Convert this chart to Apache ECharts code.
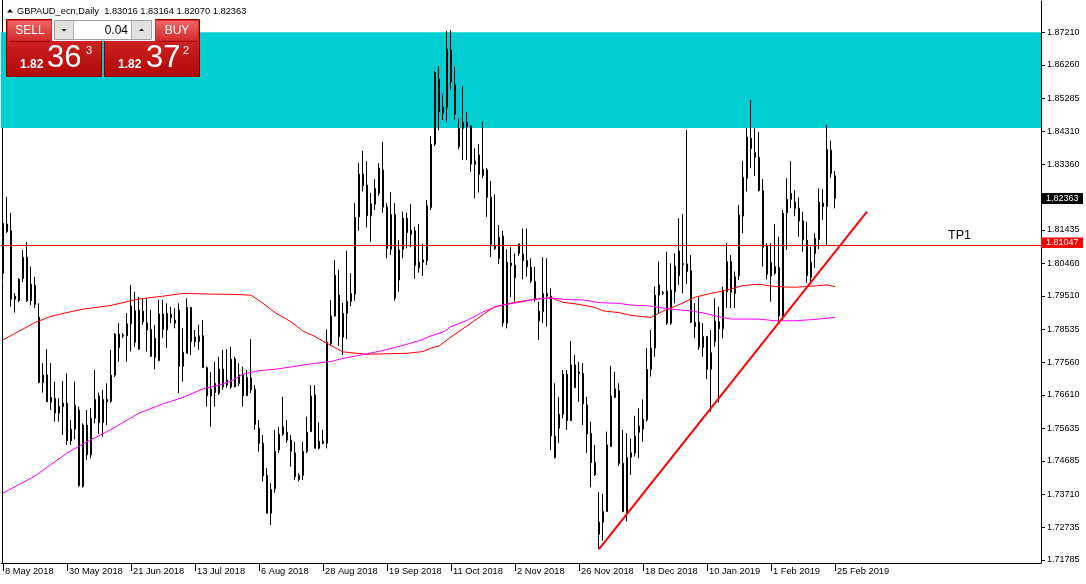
<!DOCTYPE html>
<html><head><meta charset="utf-8">
<script src="https://cdn.jsdelivr.net/npm/echarts/dist/echarts.min.js"></script>
<style>html,body{margin:0;padding:0;background:#fff;overflow:hidden}#c{width:1086px;height:584px}</style>
</head><body><div id="c"></div>
<script>
// ---------- data ----------
const dateLabels = ['8 May 2018','30 May 2018','21 Jun 2018','13 Jul 2018','6 Aug 2018','28 Aug 2018','19 Sep 2018','11 Oct 2018','2 Nov 2018','26 Nov 2018','18 Dec 2018','10 Jan 2019','1 Feb 2019','25 Feb 2019'];
const labelStep = 16;
const totalSlots = 260;

const opens = [1.8017,1.8161,1.8141,1.7941,1.7937,1.8002,1.8064,1.7937,1.7982,1.7888,
1.7697,1.7720,1.7654,1.7651,1.7608,1.7627,1.7637,1.7527,1.7561,1.7617,
1.7393,1.7573,1.7486,1.7593,1.7658,1.7580,1.7648,1.7643,1.7719,1.7800,
1.7836,1.7834,1.7869,1.7907,1.7795,1.7906,1.7872,1.7853,1.7771,1.7761,
1.7898,1.7851,1.7897,1.7871,1.7909,1.7745,1.7783,1.7917,1.7817,1.7817,
1.7834,1.7741,1.7658,1.7668,1.7666,1.7737,1.7705,1.7684,1.7766,1.7695,
1.7720,1.7659,1.7711,1.7678,1.7564,1.7520,1.7426,1.7315,1.7387,1.7500,
1.7546,1.7552,1.7529,1.7492,1.7414,1.7426,1.7496,1.7554,1.7661,1.7505,
1.7520,1.7520,1.7812,1.7892,1.7953,1.7830,1.7900,1.7935,1.7956,1.8182,
1.8307,1.8275,1.8185,1.8219,1.8251,1.8319,1.8210,1.8087,1.8189,1.7997,
1.8087,1.8178,1.8131,1.8141,1.8033,1.8049,1.8054,1.8209,1.8394,1.8584,
1.8485,1.8502,1.8670,1.8568,1.8387,1.8441,1.8458,1.8448,1.8336,1.8363,
1.8303,1.8319,1.8239,1.8099,1.8060,1.8126,1.7871,1.8047,1.8041,1.8103,
1.8073,1.8054,1.8034,1.7993,1.7878,1.7905,1.7958,1.7950,1.7541,1.7564,
1.7605,1.7722,1.7586,1.7749,1.7728,1.7724,1.7632,1.7549,1.7464,1.7254,
1.7289,1.7320,1.7510,1.7654,1.7673,1.7461,1.7320,1.7479,1.7491,1.7552,
1.7561,1.7588,1.7736,1.7798,1.7953,1.7960,1.7965,1.7871,1.7963,1.8010,
1.8043,1.8044,1.8024,1.7861,1.7874,1.7800,1.7832,1.7736,1.7817,1.7875,
1.7855,1.7963,1.8051,1.7958,1.8009,1.8184,1.8295,1.8412,1.8370,1.8356,
1.8258,1.8097,1.8009,1.8017,1.8034,1.7892,1.8194,1.8233,1.8225,1.8207,
1.8170,1.8114,1.8005,1.8075,1.8116,1.8222,1.8212,1.8377,1.83016];

const highs = [1.8182,1.8241,1.8194,1.7959,1.8003,1.8085,1.8108,1.8036,1.8007,1.7929,
1.7754,1.7795,1.7754,1.7700,1.7652,1.7702,1.7724,1.7588,1.7700,1.7627,
1.7578,1.7617,1.7622,1.7734,1.7668,1.7676,1.7695,1.7793,1.7842,1.7871,
1.7842,1.7900,1.7983,1.7963,1.7948,1.7944,1.7944,1.7910,1.7866,1.7939,
1.7939,1.7929,1.7919,1.7915,1.7929,1.7856,1.7944,1.7918,1.7851,1.7866,
1.7880,1.7744,1.7728,1.7758,1.7773,1.7793,1.7795,1.7802,1.7773,1.7754,
1.7744,1.7734,1.7824,1.7690,1.7588,1.7544,1.7447,1.7403,1.7559,1.7568,
1.7656,1.7588,1.7544,1.7524,1.7432,1.7524,1.7598,1.7690,1.7690,1.7581,
1.7559,1.7853,1.7939,1.8056,1.8027,1.7930,1.8083,1.8017,1.8222,1.8339,
1.8375,1.8345,1.8252,1.8292,1.8339,1.8401,1.8222,1.8254,1.8222,1.8114,
1.8197,1.8194,1.8220,1.8153,1.8161,1.8103,1.8231,1.8418,1.8609,1.8623,
1.8543,1.8725,1.8728,1.8621,1.8470,1.8565,1.8488,1.8448,1.8382,1.8395,
1.8460,1.8325,1.8287,1.8248,1.8158,1.8141,1.8087,1.8093,1.8075,1.8103,
1.8148,1.8148,1.8061,1.8036,1.7934,1.8064,1.8061,1.7973,1.7695,1.7656,
1.7734,1.7734,1.7819,1.7778,1.7758,1.7754,1.7656,1.7583,1.7515,1.7378,
1.7372,1.7554,1.7746,1.7729,1.7695,1.7559,1.7549,1.7534,1.7600,1.7622,
1.7648,1.7798,1.7851,1.7978,1.8051,1.7965,1.8080,1.8046,1.8075,1.8178,
1.8190,1.8436,1.8070,1.7929,1.7947,1.7871,1.7832,1.7851,1.7944,1.7919,
1.7978,1.8105,1.8070,1.8022,1.8217,1.8346,1.8441,1.8524,1.8441,1.8430,
1.8292,1.8105,1.8105,1.8161,1.8124,1.8202,1.8295,1.8345,1.8260,1.8239,
1.8197,1.8168,1.8095,1.8134,1.8265,1.8263,1.8451,1.8405,1.83164];

const lows = [1.8012,1.8135,1.7919,1.7902,1.7933,1.7991,1.7933,1.7924,1.7915,1.7696,
1.7668,1.7641,1.7617,1.7583,1.7583,1.7544,1.7515,1.7515,1.7531,1.7393,
1.7390,1.7471,1.7476,1.7578,1.7547,1.7539,1.7573,1.7638,1.7714,1.7758,
1.7828,1.7758,1.7788,1.7802,1.7793,1.7866,1.7788,1.7773,1.7736,1.7761,
1.7828,1.7798,1.7871,1.7856,1.7666,1.7700,1.7783,1.7778,1.7802,1.7793,
1.7741,1.7627,1.7568,1.7627,1.7661,1.7676,1.7682,1.7679,1.7684,1.7687,
1.7627,1.7658,1.7667,1.7559,1.7495,1.7408,1.7315,1.7281,1.7375,1.7491,
1.7541,1.7521,1.7451,1.7412,1.7408,1.7412,1.7491,1.7554,1.7505,1.7502,
1.7517,1.7505,1.7807,1.7890,1.7804,1.7778,1.7824,1.7921,1.7937,1.8141,
1.8256,1.8151,1.8109,1.8202,1.8243,1.8194,1.8061,1.8070,1.7937,1.7963,
1.8061,1.8090,1.8093,1.8001,1.8019,1.8009,1.8041,1.8202,1.8389,1.8435,
1.8465,1.8460,1.8553,1.8467,1.8379,1.8348,1.8348,1.8314,1.8236,1.8253,
1.8295,1.8182,1.8065,1.8085,1.8044,1.7861,1.7856,1.7947,1.7934,1.8068,
1.7999,1.8007,1.7989,1.7934,1.7822,1.7871,1.7861,1.7500,1.7475,1.7520,
1.7593,1.7559,1.7586,1.7682,1.7641,1.7573,1.7492,1.7391,1.7424,1.7210,
1.7235,1.7320,1.7510,1.7652,1.7453,1.7320,1.7291,1.7427,1.7481,1.7476,
1.7524,1.7583,1.7715,1.7773,1.7900,1.7953,1.7866,1.7866,1.7929,1.7983,
1.7958,1.7985,1.7871,1.7827,1.7793,1.7773,1.7707,1.7612,1.7802,1.7639,
1.7827,1.7915,1.7915,1.7915,1.7997,1.8134,1.8256,1.8324,1.8301,1.8256,
1.8036,1.7999,1.7934,1.8012,1.7871,1.7880,1.8085,1.8207,1.8184,1.8124,
1.8080,1.7989,1.7992,1.8032,1.8087,1.8173,1.8097,1.8296,1.82070];

const closes = [1.8163,1.8139,1.7941,1.7950,1.7999,1.8064,1.7937,1.7985,1.7926,1.7697,
1.7719,1.7641,1.7640,1.7608,1.7627,1.7637,1.7527,1.7561,1.7631,1.7396,
1.7573,1.7486,1.7593,1.7648,1.7580,1.7648,1.7641,1.7719,1.7839,1.7839,
1.7833,1.7869,1.7921,1.7815,1.7909,1.7875,1.7851,1.7774,1.7827,1.7898,
1.7853,1.7900,1.7888,1.7880,1.7745,1.7786,1.7917,1.7817,1.7830,1.7834,
1.7741,1.7659,1.7678,1.7695,1.7737,1.7685,1.7690,1.7766,1.7685,1.7720,
1.7658,1.7713,1.7676,1.7575,1.7520,1.7424,1.7315,1.7385,1.7496,1.7546,
1.7568,1.7529,1.7496,1.7422,1.7426,1.7496,1.7552,1.7658,1.7505,1.7526,
1.7526,1.7815,1.7892,1.8011,1.7832,1.7900,1.7935,1.7958,1.8181,1.8307,
1.8273,1.8185,1.8220,1.8265,1.8324,1.8210,1.8090,1.8189,1.7944,1.8085,
1.8178,1.8136,1.8143,1.8040,1.8049,1.8056,1.8214,1.8394,1.8604,1.8489,
1.8502,1.8672,1.8577,1.8482,1.8441,1.8458,1.8446,1.8336,1.8345,1.8306,
1.8321,1.8239,1.8102,1.8089,1.8122,1.7872,1.8049,1.8039,1.8004,1.8075,
1.8054,1.8036,1.7995,1.7941,1.7906,1.7958,1.7950,1.7541,1.7478,1.7605,
1.7722,1.7586,1.7749,1.7682,1.7724,1.7635,1.7547,1.7463,1.7428,1.7289,
1.7320,1.7515,1.7658,1.7679,1.7461,1.7320,1.7479,1.7492,1.7541,1.7570,
1.7590,1.7736,1.7798,1.7953,1.7983,1.7958,1.7871,1.7968,1.8038,1.8082,
1.8045,1.8022,1.7874,1.7874,1.7802,1.7832,1.7736,1.7785,1.7877,1.7855,
1.7965,1.8051,1.7961,1.8007,1.8187,1.8298,1.8415,1.8382,1.8356,1.8259,
1.8093,1.8014,1.8048,1.8036,1.7892,1.8192,1.8233,1.8251,1.8207,1.8170,
1.8116,1.8010,1.8049,1.8119,1.8225,1.8212,1.8379,1.8309,1.82363];

const redMaBars = [0,8,12,16,20,27,34,40,45,52,58,62,65,68,72,75,78,81,85,91,101,105,107,109,112,116,120,123,126,129,133,137,140,144,148,150,154,157,162,165,169,173,177,181,185,189,193,198,203,206,208];
const redMaValues = [1.7822,1.7873,1.7891,1.7902,1.7912,1.7923,1.7942,1.7950,1.7958,1.7956,1.7955,1.7953,1.7929,1.7902,1.7875,1.7848,1.7832,1.7812,1.7787,1.7780,1.7783,1.7788,1.7798,1.7804,1.7831,1.7863,1.7896,1.7919,1.7927,1.7934,1.7941,1.7945,1.7932,1.7926,1.7917,1.7907,1.7902,1.7894,1.7888,1.7906,1.7925,1.7947,1.7958,1.7968,1.7981,1.7985,1.7978,1.7976,1.7980,1.7983,1.7978];
const pinkMaBars = [0,8,16,21,27,34,40,45,50,53,57,60,64,68,72,77,82,85,90,95,100,105,107,110,112,116,120,123,126,130,133,137,140,145,149,154,157,162,164,167,172,175,179,182,189,193,198,203,208];
const pinkMaValues = [1.7374,1.7424,1.7491,1.7524,1.7560,1.7608,1.7635,1.7654,1.7679,1.7687,1.7701,1.7722,1.7732,1.7736,1.7743,1.7752,1.7759,1.7768,1.7779,1.7791,1.7806,1.7823,1.7834,1.7845,1.7861,1.7879,1.7904,1.7918,1.7926,1.7934,1.7941,1.7945,1.7941,1.7939,1.7931,1.7929,1.7924,1.7921,1.7917,1.7912,1.7907,1.7901,1.7890,1.7883,1.7883,1.7878,1.7878,1.7882,1.7888];

const trendBars = [149, 216];
const trendValues = [1.72106, 1.81975];
const zoneLow = 1.8442, zoneHigh = 1.8722;
const tp1 = 1.81047;
const tp1Name = 'TP1';
const lastPrice = 1.82363;
const priceTicks = [1.71785,1.72735,1.73710,1.74685,1.75635,1.76610,1.77560,1.78535,1.79510,1.80460,1.81435,1.83360,1.84310,1.85285,1.86260,1.87210];
const yMin = 1.71697, yMax = 1.88131;
const titleText = 'GBPAUD_ecn,Daily  1.83016 1.83164 1.82070 1.82363';
const lotText = '0.04';
const sellParts = ['1.82', '36', '3'];
const buyParts = ['1.82', '37', '2'];

// ---------- chart ----------
const F = '"Liberation Sans", Arial, sans-serif';
const categories = [];
for (let i = 0; i < totalSlots; i++) categories.push(String(i));
const isLabelIdx = (i) => i % labelStep === 0 && (i / labelStep) < dateLabels.length;
const ohlc = opens.map((o, i) => [o, closes[i], lows[i], highs[i]]);

const GRID = {left: 1, top: 1, width: 1040, height: 562};
const chart = echarts.init(document.getElementById('c'), null, {renderer: 'canvas'});

chart.setOption({
  animation: false,
  backgroundColor: '#ffffff',
  grid: {left: GRID.left, top: GRID.top, width: GRID.width, height: GRID.height, containLabel: false},
  xAxis: {
    type: 'category', data: categories, boundaryGap: true,
    axisLine: {onZero: false, lineStyle: {color: '#000', width: 1}},
    axisTick: {show: true, interval: isLabelIdx, alignWithLabel: true, length: 8, lineStyle: {color: '#000'}},
    axisLabel: {
      interval: isLabelIdx, align: 'left', margin: 4, color: '#000', fontSize: 9.3, fontFamily: F,
      padding: [0, 0, 0, 2],
      formatter: (v) => { const i = +v; return isLabelIdx(i) ? dateLabels[i / labelStep] : ''; }
    },
    splitLine: {show: false}
  },
  yAxis: {
    type: 'value', position: 'right', min: yMin, max: yMax, scale: true,
    axisLine: {show: true, lineStyle: {color: '#000', width: 1}},
    axisTick: {show: true, customValues: priceTicks, length: 4, lineStyle: {color: '#000'}},
    axisLabel: {customValues: priceTicks, formatter: (v) => v.toFixed(5), color: '#000', fontSize: 9, fontFamily: F, margin: 6},
    splitLine: {show: false}
  },
  series: [
    {
      type: 'candlestick', data: ohlc, barWidth: 2, silent: true, z: 2,
      itemStyle: {color: '#00c800', color0: '#e00000', borderColor: '#000', borderColor0: '#000', borderWidth: 1},
      markArea: {silent: true, z: 1, itemStyle: {color: '#00CED1', opacity: 1, borderWidth: 0}, label: {show: false},
        data: [[{yAxis: zoneLow}, {yAxis: zoneHigh}]]},
      markLine: {silent: true, symbol: ['none', 'none'], animation: false,
        lineStyle: {color: '#ff0000', width: 1, type: 'solid'}, label: {show: false},
        data: [{yAxis: tp1}]}
    },
    {type: 'line', name: 'MA red', data: redMaBars.map((b, k) => [b, redMaValues[k]]), symbol: 'none', silent: true, z: 3,
      lineStyle: {color: '#ff0000', width: 1}},
    {type: 'line', name: 'MA magenta', data: pinkMaBars.map((b, k) => [b, pinkMaValues[k]]), symbol: 'none', silent: true, z: 3,
      lineStyle: {color: '#ff00ff', width: 1}},
    {type: 'line', name: 'trend', data: trendBars.map((b, k) => [b, trendValues[k]]), symbol: 'none', silent: true, z: 4,
      lineStyle: {color: '#ff0000', width: 2}}
  ]
});

// ---------- overlay (panel, title, price boxes) ----------
function txt(text, x, y, size, color, align, valign, weight) {
  return {type: 'text', z: 100, silent: true, style: {
    text: text, x: x, y: y, fill: color, fontSize: size, fontFamily: F, fontWeight: weight || 'normal',
    align: align, textAlign: align, verticalAlign: valign, textVerticalAlign: valign}};
}
function rect(x, y, w, h, fill, stroke) {
  const s = {fill: fill};
  if (stroke) { s.stroke = stroke; s.lineWidth = 1; }
  return {type: 'rect', z: 99, silent: true, shape: {x: x, y: y, width: w, height: h}, style: s};
}
function grad(c1, c2) {
  return {type: 'linear', x: 0, y: 0, x2: 0, y2: 1, colorStops: [{offset: 0, color: c1}, {offset: 1, color: c2}]};
}

const yTP = chart.convertToPixel({yAxisIndex: 0}, tp1);
const yLast = chart.convertToPixel({yAxisIndex: 0}, lastPrice);
const axisX = GRID.left + GRID.width;

const g = [
  {type: 'line', z: 0, silent: true, shape: {x1: 2.5, y1: 0, x2: 2.5, y2: 563}, style: {stroke: '#000', lineWidth: 1}},
  // title
  {type: 'polygon', z: 100, silent: true, shape: {points: [[7, 12.5], [13, 12.5], [10, 9]]}, style: {fill: '#000'}},
  txt(titleText, 17, 11, 9.3, '#000', 'left', 'middle'),
  // panel blocks
  rect(6.5, 19.5, 95, 57, grad('#e03030', '#b00808'), '#8c0000'),
  rect(104.5, 19.5, 95, 57, grad('#e03030', '#b00808'), '#8c0000'),
  rect(52, 18, 103, 23, '#ffffff'),
  rect(8, 21, 43, 19, grad('#f06464', '#d42c2c')),
  rect(156, 21, 42, 19, grad('#f06464', '#d42c2c')),
  {type: 'line', z: 100, silent: true, shape: {x1: 10, y1: 41.5, x2: 50, y2: 41.5}, style: {stroke: '#9a0a0a', lineWidth: 1}},
  {type: 'line', z: 100, silent: true, shape: {x1: 158, y1: 41.5, x2: 197, y2: 41.5}, style: {stroke: '#9a0a0a', lineWidth: 1}},
  // lot box
  rect(54.5, 20.5, 97, 19, '#ffffff', '#a0a0a0'),
  rect(55, 21, 18, 18, '#e1e1e1'),
  rect(132, 21, 19, 18, '#e1e1e1'),
  {type: 'line', z: 100, silent: true, shape: {x1: 73.5, y1: 21, x2: 73.5, y2: 39}, style: {stroke: '#b0b0b0', lineWidth: 1}},
  {type: 'line', z: 100, silent: true, shape: {x1: 131.5, y1: 21, x2: 131.5, y2: 39}, style: {stroke: '#b0b0b0', lineWidth: 1}},
  {type: 'polygon', z: 100, silent: true, shape: {points: [[61.5, 29], [66.5, 29], [64, 31.5]]}, style: {fill: '#000'}},
  {type: 'polygon', z: 100, silent: true, shape: {points: [[139, 31], [144, 31], [141.5, 28.5]]}, style: {fill: '#000'}},
  txt('SELL', 30, 30.7, 12, '#fff', 'center', 'middle'),
  txt('BUY', 177, 30.7, 12, '#fff', 'center', 'middle'),
  txt(lotText, 128, 30.5, 12, '#000', 'right', 'middle'),
  txt(sellParts[0], 20, 65, 12, '#fff', 'left', 'middle', 'bold'),
  txt(sellParts[1], 47, 58.5, 31, '#fff', 'left', 'middle'),
  txt(sellParts[2], 86, 51, 11, '#fff', 'left', 'middle'),
  txt(buyParts[0], 118, 65, 12, '#fff', 'left', 'middle', 'bold'),
  txt(buyParts[1], 146, 58.5, 31, '#fff', 'left', 'middle'),
  txt(buyParts[2], 183, 51, 11, '#fff', 'left', 'middle'),
  // axis price boxes
  rect(axisX, Math.round(yLast) - 5, 42, 11, '#000000'),
  txt(lastPrice.toFixed(5), axisX + 5, Math.round(yLast) + 0.5, 9, '#fff', 'left', 'middle'),
  rect(axisX, Math.round(yTP) - 5.5, 42, 10.5, '#ff0000'),
  txt(tp1.toFixed(5), axisX + 5, Math.round(yTP), 9, '#fff', 'left', 'middle'),
  txt(tp1Name, 971, yTP - 1, 12.5, '#000', 'right', 'bottom')
];
chart.setOption({graphic: {elements: g}});
</script>
</body></html>
